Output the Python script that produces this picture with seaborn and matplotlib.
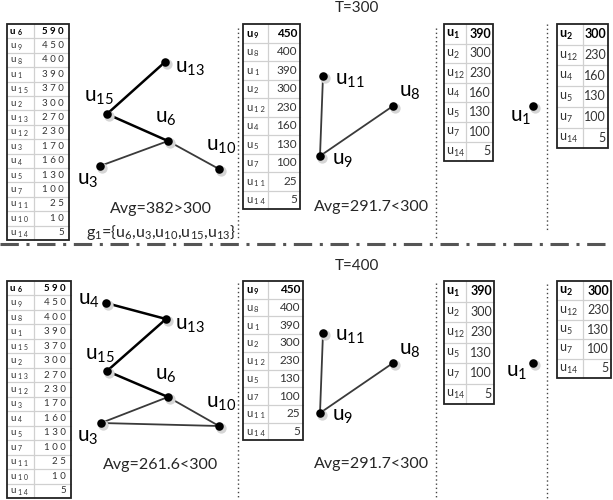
import matplotlib
matplotlib.use("Agg")
import matplotlib.pyplot as plt
from matplotlib.patches import Rectangle
import pandas as pd
import seaborn as sns

# ---- table contents ----
full_ids = ['6', '9', '8', '1', '15', '2', '13', '12', '3', '4', '5', '7', '11', '10', '14']
full_vals = [590, 450, 400, 390, 370, 300, 270, 230, 170, 160, 130, 100, 25, 10, 5]

top_t2_ids = ['9', '8', '1', '2', '12', '4', '5', '7', '11', '14']
top_t2_vals = [450, 400, 390, 300, 230, 160, 130, 100, 25, 5]
top_t3_ids = ['1', '2', '12', '4', '5', '7', '14']
top_t3_vals = [390, 300, 230, 160, 130, 100, 5]
top_t4_ids = ['2', '12', '4', '5', '7', '14']
top_t4_vals = [300, 230, 160, 130, 100, 5]

bot_t2_ids = ['9', '8', '1', '2', '12', '5', '7', '11', '14']
bot_t2_vals = [450, 400, 390, 300, 230, 130, 100, 25, 5]
bot_t3_ids = ['1', '2', '12', '5', '7', '14']
bot_t3_vals = [390, 300, 230, 130, 100, 5]
bot_t4_ids = ['2', '12', '5', '7', '14']
bot_t4_vals = [300, 230, 130, 100, 5]

group_ids = ['6', '3', '10', '15', '13']

# ---- graph layouts (pixel space of the figure) ----
top_nodes = ['13', '15', '6', '3', '10', '11', '8', '9', '1']
top_nx = [165, 107, 168, 100, 219, 323, 393, 320, 533]
top_ny = [62, 114, 141, 166, 169, 76, 106, 156, 106]
top_lx = [190, 99, 166, 88, 221, 350, 410, 343, 521]
top_ly = [68, 97, 118, 180, 146, 80, 92, 160, 117]
top_bold = [('15', '13'), ('15', '6')]
top_thin = [('6', '3'), ('6', '10'), ('9', '11'), ('9', '8')]

bot_nodes = ['4', '13', '15', '6', '3', '10', '11', '8', '9', '1']
bot_nx = [106, 166, 107, 168, 101, 219, 323, 393, 320, 533]
bot_ny = [303, 319, 371, 397, 423, 426, 333, 363, 413, 363]
bot_lx = [89, 190, 100, 166, 88, 221, 350, 410, 343, 517]
bot_ly = [300, 325, 355, 375, 437, 403, 336, 350, 416, 372]
bot_bold = [('4', '13'), ('13', '15'), ('15', '6')]
bot_thin = [('6', '3'), ('3', '10'), ('6', '10'), ('9', '11'), ('9', '8')]

sns.set_theme(style='white')
plt.rcParams['font.family'] = ['Lato', 'DejaVu Sans']
plt.rcParams['mathtext.fontset'] = 'custom'
plt.rcParams['mathtext.rm'] = 'Lato'
plt.rcParams['mathtext.bf'] = 'Lato:bold'

fig = plt.figure(figsize=(6.13, 5.0), dpi=100)
ax = fig.add_axes([0, 0, 1, 1])
ax.set_xlim(0, 613)
ax.set_ylim(500, 0)
ax.axis('off')

TXT = '#333333'


def draw_table(x0, y0, w, split, rh, ids, vals, kind):
    n = len(ids)
    for i in range(1, n):
        ax.plot([x0, x0 + w], [y0 + i * rh] * 2, color='#d0d0d0', lw=0.9, zorder=2)
    ax.plot([x0 + split] * 2, [y0, y0 + n * rh], color='#d0d0d0', lw=0.9, zorder=2)
    ax.add_patch(Rectangle((x0, y0), w, n * rh, fill=False, ec='#222222', lw=1.3, zorder=3))
    for i, (u, v) in enumerate(zip(ids, vals)):
        yc = y0 + (i + 0.5) * rh
        wt = 'bold' if i == 0 else 'normal'
        col = 'black' if i == 0 else TXT
        if kind == 'plain':
            ax.text(x0 + 2, yc + 1, r'$\mathregular{u_{%s}}$' % u, fontsize=9,
                    ha='left', va='center', color=col, fontweight=wt)
            ax.text(x0 + w - 2, yc, str(v), fontsize=9, ha='right', va='center',
                    color=col, fontweight=wt)
        elif kind == 'spaced':
            ax.text(x0 + 3, yc, 'u', fontsize=7, ha='left', va='center',
                    color=col, fontweight=wt)
            ax.text(x0 + 10.5, yc + 1.5, ' '.join(u), fontsize=5, ha='left',
                    va='center', color=col, fontweight=wt)
            ax.text(x0 + w - 5, yc, ' '.join(str(v)), fontsize=7, ha='right',
                    va='center', color=col, fontweight=wt)
        else:
            ax.text(x0 + 3, yc, 'u', fontsize=8, ha='left', va='center',
                    color=col, fontweight=wt)
            ax.text(x0 + 11, yc + 1.8, ' '.join(u), fontsize=5.5, ha='left',
                    va='center', color=col, fontweight=wt)
            ax.text(x0 + w - 3, yc, str(v), fontsize=8.5, ha='right',
                    va='center', color=col, fontweight=wt)


def draw_graph(nodes, nx, ny, lx, ly, bold, thin):
    pos = dict(zip(nodes, zip(nx, ny)))
    for a, b in bold:
        ax.plot([pos[a][0], pos[b][0]], [pos[a][1], pos[b][1]], color='black', lw=1.8, zorder=4)
    for a, b in thin:
        ax.plot([pos[a][0], pos[b][0]], [pos[a][1], pos[b][1]], color='#3a3a3a', lw=1.3, zorder=4)
    df = pd.DataFrame({'x': nx, 'y': ny})
    shadow = pd.DataFrame({'x': [v + 1.8 for v in nx], 'y': [v + 1.8 for v in ny]})
    sns.scatterplot(data=shadow, x='x', y='y', ax=ax, color='#d5d5d5', s=55,
                    linewidth=0, zorder=5, legend=False)
    sns.scatterplot(data=df, x='x', y='y', ax=ax, color='black', s=38,
                    linewidth=0, zorder=6, legend=False)
    for u, x, y in zip(nodes, lx, ly):
        ax.text(x, y, r'$\mathregular{u_{%s}}$' % u, fontsize=15, ha='center',
                va='center', color='black', zorder=7)


# ---- top half (T=300) ----
draw_table(7, 24, 62, 27, 14.4, full_ids, full_vals, 'spaced')
draw_table(243, 24, 57, 25, 18.5, top_t2_ids, top_t2_vals, 'semi')
draw_table(444, 24, 49, 22, 19.6, top_t3_ids, top_t3_vals, 'plain')
draw_table(557, 24, 51, 26, 20.7, top_t4_ids, top_t4_vals, 'plain')
draw_graph(top_nodes, top_nx, top_ny, top_lx, top_ly, top_bold, top_thin)
ax.text(357, 8, 'T=300', fontsize=11, ha='center', va='center')
ax.text(161, 209, 'Avg=382>300', fontsize=11.5, ha='center', va='center')
ax.text(372, 207, 'Avg=291.7<300', fontsize=11.5, ha='center', va='center')
g1_label = 'g$_1$={' + ','.join('u$_{%s}$' % g for g in group_ids) + '}'
ax.text(161, 232, g1_label, fontsize=11.5, ha='center', va='center')

# ---- bottom half (T=400) ----
draw_table(7, 281, 64, 27, 14.47, full_ids, full_vals, 'spaced')
draw_table(243, 281, 60, 25, 17.7, bot_t2_ids, bot_t2_vals, 'semi')
draw_table(444, 281, 50, 22, 20.5, bot_t3_ids, bot_t3_vals, 'plain')
draw_table(557, 281, 54, 26, 19.4, bot_t4_ids, bot_t4_vals, 'plain')
draw_graph(bot_nodes, bot_nx, bot_ny, bot_lx, bot_ly, bot_bold, bot_thin)
ax.text(357, 266, 'T=400', fontsize=11, ha='center', va='center')
ax.text(161, 465, 'Avg=261.6<300', fontsize=11.5, ha='center', va='center')
ax.text(372, 464, 'Avg=291.7<300', fontsize=11.5, ha='center', va='center')

# ---- separators ----
for x, y0, y1 in [(238, 28, 240), (436, 28, 240), (547, 24, 232),
                  (238, 283, 500), (436, 283, 500), (547, 284, 500)]:
    ax.plot([x, x], [y0, y1], color='#444444', lw=1.0, ls=(0, (1, 2)), zorder=1)
ax.plot([0, 613], [244, 244], color='#555555', lw=2.2, ls=(0, (6, 2.5, 1, 2.5)), zorder=1)

fig.savefig('out.png', dpi=100)
